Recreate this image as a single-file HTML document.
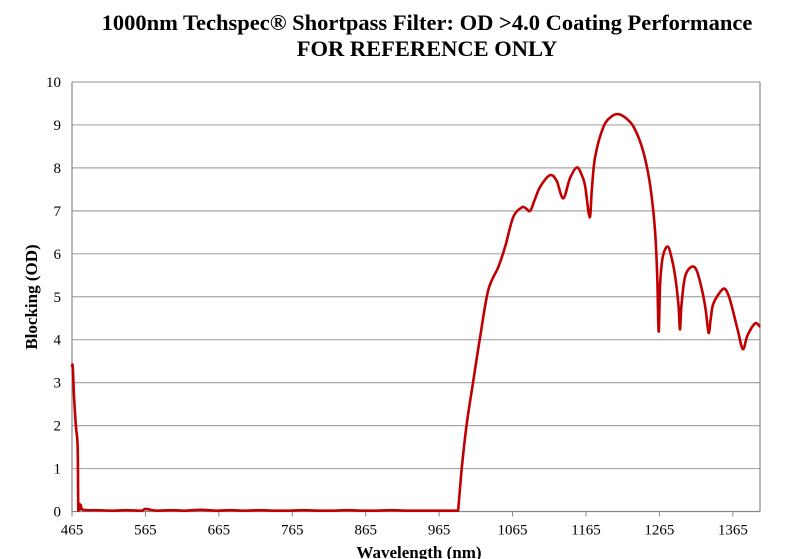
<!DOCTYPE html>
<html><head><meta charset="utf-8">
<style>
body{margin:0;background:#fff;}
svg{display:block;font-family:"Liberation Serif",serif;}
</style></head>
<body>
<svg id="chart" width="791" height="559" viewBox="0 0 791 559" xmlns="http://www.w3.org/2000/svg">
<text x="427" y="30" text-anchor="middle" font-size="22.5" font-weight="bold">1000nm Techspec® Shortpass Filter: OD &gt;4.0 Coating Performance</text>
<text x="427" y="56" text-anchor="middle" font-size="22.5" font-weight="bold">FOR REFERENCE ONLY</text>
<g id="grid"></g>
<g id="axes"></g>
<path id="curve" fill="none" stroke="#c00000" stroke-width="2.6" stroke-linejoin="round"/>
<text transform="translate(37,297) rotate(-90)" text-anchor="middle" font-size="17" font-weight="bold">Blocking (OD)</text>
<text x="419" y="558" text-anchor="middle" font-size="17" font-weight="bold">Wavelength (nm)</text>
</svg>
<script>
const xTicks=[465,565,665,765,865,965,1065,1165,1265,1365];
const yTicks=[0,1,2,3,4,5,6,7,8,9,10];
const wavelengths=[465,466,468,470.4,472.7,473.6,475,476,477,480,500,520,540,560,565,580,600,620,640,660,680,700,720,740,760,780,800,820,840,860,880,900,920,940,960,980,990,991,996,1002.7,1011.7,1020.9,1032,1045.8,1055,1066,1077.7,1083,1089,1095,1102.6,1116,1125,1134,1143,1152.6,1160,1164,1170,1173,1177.5,1188.9,1200,1209.3,1220,1229.7,1240,1247.9,1254,1259,1262,1264,1266,1269.6,1276,1281,1286.5,1291,1293,1295,1300,1309,1316,1323,1328,1332,1335,1338.7,1351.5,1358,1363.7,1372,1378.7,1385,1395.5,1402];
const odValues=[3.35,3.37,2.6,1.97,1.5,0.02,0.18,0.05,0.15,0.04,0.03,0.02,0.03,0.02,0.06,0.02,0.03,0.02,0.04,0.02,0.03,0.02,0.03,0.02,0.02,0.03,0.02,0.02,0.03,0.02,0.02,0.03,0.02,0.02,0.02,0.02,0.02,0.05,1.04,2.05,3.06,4.07,5.16,5.7,6.17,6.86,7.08,7.06,7.0,7.25,7.56,7.83,7.7,7.29,7.75,8.01,7.8,7.56,6.85,7.5,8.26,8.96,9.2,9.25,9.15,8.96,8.55,8.03,7.4,6.55,5.5,4.19,5.3,5.93,6.17,5.95,5.47,4.8,4.24,4.8,5.47,5.7,5.6,5.16,4.7,4.16,4.5,4.85,5.18,5.08,4.77,4.2,3.78,4.1,4.38,4.3];
const L=72,R=760,T=82,B=511.5,X0=465,X1=1402;
const sx=w=>L+(w-X0)/(X1-X0)*(R-L);
const sy=v=>B-v/10*(B-T);
const NS="http://www.w3.org/2000/svg";
const grid=document.getElementById('grid'),axes=document.getElementById('axes');
function mk(tag,attrs,parent,text){const e=document.createElementNS(NS,tag);for(const k in attrs)e.setAttribute(k,attrs[k]);if(text!==undefined)e.textContent=text;parent.appendChild(e);return e;}
yTicks.forEach(v=>{
  const y=sy(v);
  const g=mk('line',{x1:L,x2:R,y1:y,y2:y,stroke:v===0?'#888':'#a6a6a6','stroke-width':1.2},grid);
  
  
  const t=mk('text',{x:L-11,y:y+5,'text-anchor':'end','font-size':15},axes,String(v));
  
  
});
const la=mk('line',{x1:L,x2:L,y1:T,y2:B,stroke:'#888','stroke-width':1.2},axes);


const ra=mk('line',{x1:R,x2:R,y1:T,y2:B,stroke:'#888','stroke-width':1.2},axes);


xTicks.forEach(w=>{
  const x=sx(w);
  const tk=mk('line',{x1:x,x2:x,y1:B,y2:B+5,stroke:'#888','stroke-width':1},axes);
  
  
  const t=mk('text',{x:x,y:B+23,'text-anchor':'middle','font-size':15},axes,String(w));
  
  
});
const pts=wavelengths.map((w,i)=>[sx(w),sy(odValues[i])]);
let d='M'+pts[0][0].toFixed(2)+','+pts[0][1].toFixed(2);
for(let i=0;i<pts.length-1;i++){
  const p0=pts[Math.max(0,i-1)],p1=pts[i],p2=pts[i+1],p3=pts[Math.min(pts.length-1,i+2)];
  const k=1/6;
  const c1=[p1[0]+(p2[0]-p0[0])*k,Math.min(B,p1[1]+(p2[1]-p0[1])*k)];
  const c2=[p2[0]-(p3[0]-p1[0])*k,Math.min(B,p2[1]-(p3[1]-p1[1])*k)];
  d+=' C'+c1[0].toFixed(2)+','+c1[1].toFixed(2)+' '+c2[0].toFixed(2)+','+c2[1].toFixed(2)+' '+p2[0].toFixed(2)+','+p2[1].toFixed(2);
}
document.getElementById('curve').setAttribute('d',d);
</script>
</body></html>
